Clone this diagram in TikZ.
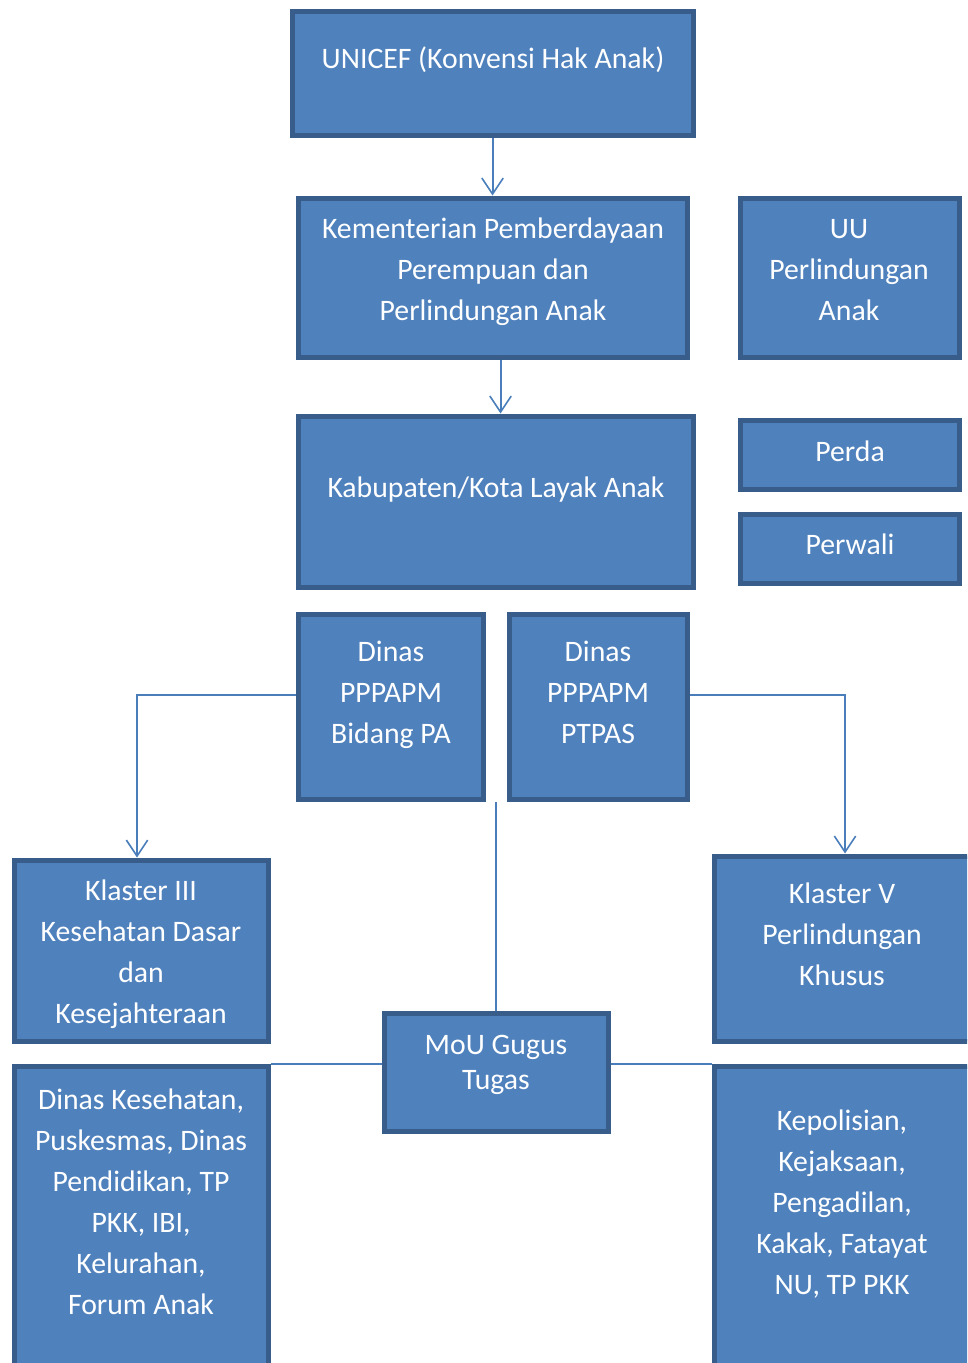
\documentclass[tikz,border=0pt]{standalone}
\usepackage{fontspec}
\setmainfont{Carlito}
\usetikzlibrary{fit,arrows.meta}
\definecolor{boxfill}{HTML}{4F81BD}
\definecolor{boxline}{HTML}{385D8A}
\definecolor{linkline}{HTML}{4A7EBB}
\begin{document}
\begin{tikzpicture}
  [x=0.75pt,y=-0.75pt,
   box/.style={draw=boxline,fill=boxfill,line width=3.75pt,inner sep=0pt},
   txt/.style={text=white,align=center,inner sep=0pt,font=\fontsize{22.3}{30.75}\selectfont},
   link/.style={draw=linkline,line width=1.5pt},
   arr/.style={link,-{Straight Barb[length=12pt,width=16pt,line width=1.2pt]}}]
  \useasboundingbox (0,0) rectangle (967,1363);
  \clip (0,0) rectangle (967,1363);
  % boxes
  \node[box,fit={(292,12) (693,135)}] (unicef) {};
  \node[box,fit={(298,198) (687,357)}] (kem) {};
  \node[box,fit={(740,198) (959,357)}] (uu) {};
  \node[box,fit={(298,416) (693,587)}] (kab) {};
  \node[box,fit={(740,420) (959,489)}] (perda) {};
  \node[box,fit={(740,514) (959,583)}] (perwali) {};
  \node[box,fit={(298,614) (483,799)}] (dpa) {};
  \node[box,fit={(509,614) (687,799)}] (dptpas) {};
  \node[box,fit={(14,860) (268,1041)}] (k3) {};
  \node[box,fit={(714,856) (976,1041)}] (k5) {};
  \node[box,fit={(384,1013) (608,1131)}] (mou) {};
  \node[box,fit={(14,1066) (268,1380)}] (dkes) {};
  \node[box,fit={(714,1066) (976,1380)}] (kepol) {};
  % texts
  \node[txt] (unicef-t) at (493,60) {UNICEF (Konvensi Hak Anak)};
  \node[txt] (kem-t) at (493,272) {Kementerian Pemberdayaan\\Perempuan dan\\Perlindungan Anak};
  \node[txt] (uu-t) at (849,270) {UU\\Perlindungan\\Anak};
  \node[txt] (kab-t) at (496,490) {Kabupaten/Kota Layak Anak};
  \node[txt] (perda-t) at (850,451) {Perda};
  \node[txt] (perwali-t) at (850,544) {Perwali};
  \node[txt] (dpa-t) at (391,695) {Dinas\\PPPAPM\\Bidang PA};
  \node[txt] (dptpas-t) at (598,692) {Dinas\\PPPAPM\\PTPAS};
  \node[txt] (k3-t) at (141,954) {Klaster III\\Kesehatan Dasar\\dan\\Kesejahteraan};
  \node[txt] (k5-t) at (842,934) {Klaster V\\Perlindungan\\Khusus};
  \node[txt,font=\fontsize{22.3}{26.25}\selectfont] (mou-t) at (496,1065) {MoU Gugus\\Tugas};
  \node[txt] (dkes-t) at (141,1202) {Dinas Kesehatan,\\Puskesmas, Dinas\\Pendidikan, TP\\PKK, IBI,\\Kelurahan,\\Forum Anak};
  \node[txt] (kepol-t) at (842,1204) {Kepolisian,\\Kejaksaan,\\Pengadilan,\\Kakak, Fatayat\\NU, TP PKK};
  % connectors
  \coordinate (kem-out) at ([xshift=6pt]kem.south);
  \coordinate (dpa-out) at ([yshift=9pt]dpa.west);
  \coordinate (dptpas-out) at ([yshift=9pt]dptpas.east);
  \coordinate (k3-in) at ([xshift=-3pt]k3.north);
  \draw[arr] (unicef.south) -- (unicef.south |- kem.north);
  \draw[arr] (kem-out) -- (kem-out |- kab.north);
  \draw[arr] (dpa-out) -| (k3-in);
  \draw[arr] (dptpas-out) -| (k5.north);
  \draw[link] (mou.north) -- (mou.north |- dpa.south);
  \foreach \from/\to in {dkes.north east/mou.west, kepol.north west/mou.east}
    \draw[link] (\from) -- (\from -| \to);
\end{tikzpicture}
\end{document}
